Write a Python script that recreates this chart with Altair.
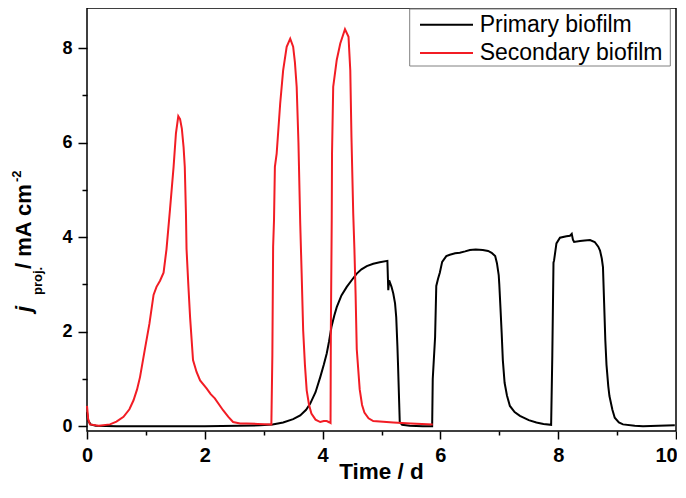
import altair as alt
import pandas as pd

# ---- data ----
primary_t = [0.00, 0.02, 0.06, 0.15, 0.5, 1.0, 2.0, 2.94, 3.15, 3.33, 3.5, 3.62, 3.72, 3.79, 3.88,
             3.96, 4.02, 4.07, 4.11, 4.15, 4.20, 4.24, 4.32, 4.41, 4.50, 4.58, 4.66, 4.75, 4.86,
             4.97, 5.10, 5.115, 5.13, 5.17, 5.20, 5.23, 5.25, 5.27, 5.28, 5.30, 5.31, 5.35, 5.48,
             5.70, 5.86, 5.87, 5.91, 5.93, 5.96, 5.99, 6.03, 6.10, 6.16, 6.25, 6.33, 6.42, 6.5,
             6.6, 6.72, 6.81, 6.87, 6.93, 6.96, 6.99, 7.00, 7.02, 7.04, 7.06, 7.09, 7.13, 7.18,
             7.26, 7.35, 7.5, 7.63, 7.75, 7.88, 7.90, 7.92, 7.93, 7.97, 8.03, 8.14, 8.20, 8.23,
             8.25, 8.27, 8.37, 8.45, 8.54, 8.62, 8.68, 8.71, 8.74, 8.76, 8.78, 8.80, 8.82, 8.85,
             8.87, 8.92, 8.96, 9.03, 9.10, 9.3, 9.44, 9.7, 9.98]
primary_j = [0.30, 0.12, 0.04, 0.01, 0.0, 0.0, 0.0, 0.02, 0.04, 0.08, 0.15, 0.23, 0.35, 0.48, 0.72,
             1.04, 1.30, 1.54, 1.80, 2.10, 2.35, 2.52, 2.77, 2.95, 3.10, 3.23, 3.32, 3.39, 3.44,
             3.47, 3.50, 2.88, 3.09, 2.95, 2.81, 2.60, 2.31, 1.70, 1.33, 0.50, 0.09, 0.03, 0.01,
             0.0, 0.0, 1.0, 1.89, 2.97, 3.12, 3.25, 3.48, 3.60, 3.63, 3.66, 3.67, 3.70, 3.73,
             3.74, 3.73, 3.71, 3.67, 3.60, 3.45, 3.20, 3.00, 2.50, 1.98, 1.40, 0.92, 0.65, 0.43,
             0.30, 0.22, 0.13, 0.08, 0.05, 0.03, 1.5, 3.46, 3.51, 3.87, 3.99, 4.02, 4.03, 4.07,
             3.95, 3.90, 3.92, 3.93, 3.94, 3.90, 3.80, 3.72, 3.55, 3.37, 2.60, 1.82, 1.30, 0.85,
             0.64, 0.35, 0.18, 0.08, 0.04, 0.01, 0.0, 0.01, 0.02]

secondary_t = [0.00, 0.02, 0.05, 0.2, 0.39, 0.5, 0.62, 0.72, 0.79, 0.85, 0.90, 0.98, 1.06, 1.13,
               1.18, 1.24, 1.30, 1.35, 1.41, 1.47, 1.51, 1.55, 1.58, 1.61, 1.64, 1.66, 1.68, 1.69,
               1.72, 1.75, 1.80, 1.86, 1.92, 2.03, 2.10, 2.17, 2.31, 2.40, 2.48, 2.6, 2.71, 2.9,
               3.13, 3.147, 3.16, 3.175, 3.19, 3.22, 3.28, 3.33, 3.39, 3.45, 3.50, 3.53, 3.56,
               3.59, 3.62, 3.645, 3.67, 3.70, 3.73, 3.77, 3.81, 3.88, 3.96, 4.02, 4.07, 4.12,
               4.135, 4.14, 4.155, 4.16, 4.18, 4.24, 4.30, 4.38, 4.44, 4.47, 4.49, 4.52, 4.54,
               4.56, 4.58, 4.63, 4.67, 4.71, 4.78, 4.86, 5.2, 5.5, 5.87]
secondary_j = [0.43, 0.15, 0.04, 0.01, 0.04, 0.10, 0.20, 0.36, 0.55, 0.78, 1.04, 1.61, 2.17, 2.78,
               2.95, 3.08, 3.25, 3.75, 4.60, 5.49, 6.20, 6.56, 6.50, 6.30, 5.90, 5.49, 4.50, 3.75,
               3.00, 2.31, 1.40, 1.15, 0.97, 0.80, 0.68, 0.59, 0.34, 0.20, 0.09, 0.06, 0.06, 0.05,
               0.04, 1.5, 3.80, 4.36, 5.49, 5.77, 6.83, 7.53, 8.03, 8.20, 8.03, 7.70, 7.18,
               6.00, 4.30, 3.20, 2.03, 1.30, 0.76, 0.45, 0.27, 0.14, 0.09, 0.11, 0.11, 0.08,
               0.07, 2.0, 4.36, 5.77, 7.18, 7.75, 8.10, 8.40, 8.24, 7.53, 6.12, 4.50, 3.75,
               2.80, 1.63, 0.78, 0.45, 0.29, 0.17, 0.11, 0.08, 0.06, 0.04]

series_names = ["Primary biofilm", "Secondary biofilm"]
series_colors = ["#000000", "#f21c24"]
x_tick_values = [0, 1, 2, 3, 4, 5, 6, 7, 8, 9, 10]
y_tick_values = [0, 1, 2, 3, 4, 5, 6, 7, 8]

rows = []
for name, ts, js in [(series_names[0], primary_t, primary_j),
                     (series_names[1], secondary_t, secondary_j)]:
    for i, (t, j) in enumerate(zip(ts, js)):
        rows.append({"series": name, "t": t, "j": j, "idx": i})
df = pd.DataFrame(rows)

FONT = "Liberation Sans"

lines = alt.Chart(df).mark_line(strokeWidth=2).encode(
    x=alt.X("t:Q", scale=alt.Scale(domain=[0, 10], nice=False, zero=False),
            axis=alt.Axis(values=x_tick_values, title=None, grid=False, domain=False,
                          labelExpr="datum.value % 2 == 0 ? datum.label : ''",
                          tickSize={"condition": {"test": "datum.value % 2 == 0", "value": 8}, "value": 4},
                          labelOffset={"condition": {"test": "datum.value == 10", "value": -10}, "value": 0},
                          tickColor="black", tickWidth=1.5, labelColor="black",
                          labelFont=FONT, labelFontWeight="bold", labelFontSize=20,
                          labelPadding=6, labelFlush=False)),
    y=alt.Y("j:Q", scale=alt.Scale(domain=[-0.1, 8.85], nice=False, zero=False),
            axis=alt.Axis(values=y_tick_values, title=None, grid=False, domain=False,
                          labelExpr="datum.value % 2 == 0 ? datum.label : ''",
                          tickSize={"condition": {"test": "datum.value % 2 == 0", "value": 9}, "value": 5},
                          tickColor="black", tickWidth=1.5, labelColor="black",
                          labelFont=FONT, labelFontWeight="bold", labelFontSize=18,
                          labelPadding=6, labelFlush=False)),
    color=alt.Color("series:N", scale=alt.Scale(domain=series_names, range=series_colors), legend=None),
    order=alt.Order("idx:Q"),
    detail="series:N",
)

dummy = pd.DataFrame({"a": [0]})


def txt(s, x, y, size, angle=0, align="left", baseline="alphabetic", style="normal", weight="bold"):
    return alt.Chart(dummy).mark_text(
        text=s, font=FONT, fontWeight=weight, fontStyle=style, fontSize=size,
        angle=angle, align=align, baseline=baseline, color="black"
    ).encode(x=alt.value(x), y=alt.value(y))


# y-axis title pieces: j_proj. / mA cm^-2
ytitle = [
    txt("j", -56, 304, 22, angle=270, style="italic"),
    txt("proj.", -45, 287, 13, angle=270),
    txt("/ mA cm", -56, 261, 22, angle=270),
    txt("-2", -66.5, 174, 13, angle=270),
]
xtitle = txt("Time / d", 294.5, 471, 22.5, align="center")

# legend
leg_box = alt.Chart(dummy).mark_rect(fill="white", stroke="#808080", strokeWidth=1).encode(
    x=alt.value(322.7), x2=alt.value(583.3), y=alt.value(1), y2=alt.value(58))
leg_items = []
for k, (name, col) in enumerate(zip(series_names, series_colors)):
    yy = 16.7 + 28.3 * k
    leg_items.append(alt.Chart(dummy).mark_rule(color=col, strokeWidth=2).encode(
        x=alt.value(333), x2=alt.value(386), y=alt.value(yy)))
    leg_items.append(txt(name, 392.7, yy, 23, baseline="middle", weight="normal"))

chart = alt.layer(lines, *ytitle, xtitle, leg_box, *leg_items).properties(
    width=589, height=423,
    autosize=alt.AutoSizeParams(type="none"),
    padding={"left": 79, "top": 0, "right": 1, "bottom": 53},
).configure_view(stroke="black", strokeWidth=1.5)

chart.save("out.html", embed_options={"renderer": "svg", "actions": False})
